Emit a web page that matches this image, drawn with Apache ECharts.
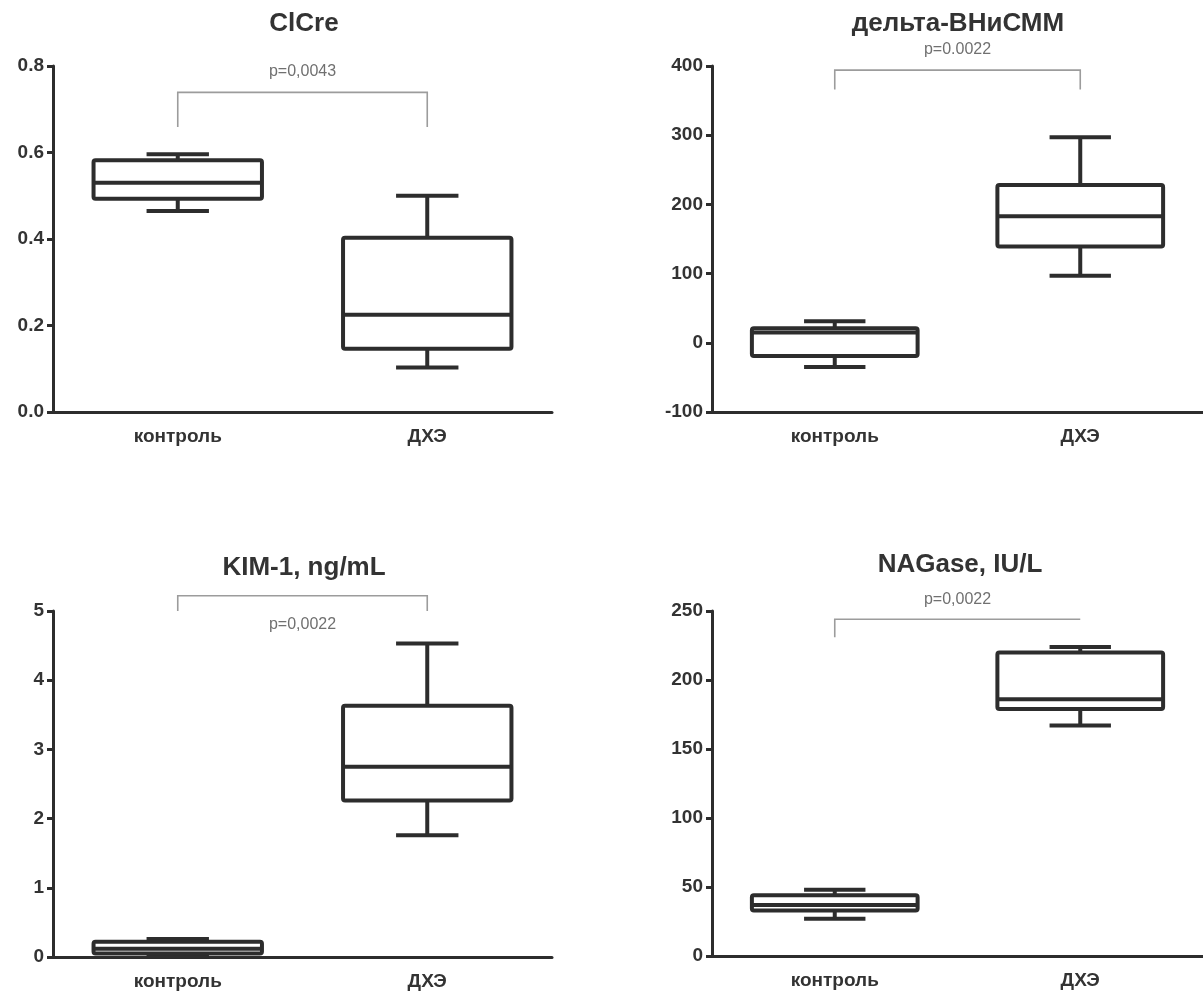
<!DOCTYPE html>
<html><head><meta charset="utf-8">
<script src="https://cdn.jsdelivr.net/npm/echarts@6/dist/echarts.min.js"></script>
<style>html,body{margin:0;padding:0;background:#fff}#c{width:1203px;height:993px}</style>
</head><body><div id="c"></div>
<script>
// ---- data ----
const categories = ['контроль', 'ДХЭ'];
const titles = ['ClCre', 'дельта-ВНиСММ', 'KIM-1, ng/mL', 'NAGase, IU/L'];
// each box: [min, Q1, median, Q3, max]
const clcreControl = [0.465, 0.493, 0.530, 0.582, 0.596];
const clcreDHE = [0.103, 0.146, 0.225, 0.403, 0.500];
const deltaControl = [-35, -19, 15, 21, 31];
const deltaDHE = [97, 139, 183, 228, 297];
const kimControl = [0.01, 0.05, 0.12, 0.22, 0.26];
const kimDHE = [1.76, 2.26, 2.75, 3.63, 4.53];
const nagControl = [27, 33, 37, 44, 48];
const nagDHE = [167, 179, 186, 220, 224];
const pTexts = ['p=0,0043', 'p=0.0022', 'p=0,0022', 'p=0,0022'];
const yMin = [0, -100, 0, 0];
const yMax = [0.8, 400, 5, 250];
const yInterval = [0.2, 100, 1, 50];
const bracketTop = [0.739, 394, 5.22, 244];
const bracketLeftEnd = [0.659, 366, 5.0, 231];
const bracketRightEnd = [0.659, 366, 5.0, 244];
const pTextY = [0.787, 423, 4.81, 258];

const boxes = [
  [clcreControl, clcreDHE],
  [deltaControl, deltaDHE],
  [kimControl, kimDHE],
  [nagControl, nagDHE]
];

// ---- layout ----
const FONT = '"Liberation Sans", Arial, sans-serif';
const INK = '#2d2d2d';
const grids = [
  {left: 53, top: 66, width: 499, height: 346},
  {left: 712, top: 66, width: 496, height: 346},
  {left: 53, top: 611, width: 499, height: 346},
  {left: 712, top: 611, width: 496, height: 345}
];
const titlePos = [[304, 24], [958, 24], [304, 568], [960, 565]];

function renderBox(params, api) {
  const ci = api.value(0);
  const v = [1, 2, 3, 4, 5].map(i => api.value(i));
  const cx = api.coord([ci, v[2]])[0];
  const y = val => api.coord([ci, val])[1];
  const band = api.size([1, 0])[0];
  const hw = band * 0.675 / 2;
  const cw = band * 0.25 / 2;
  const st = {stroke: INK, lineWidth: 4, fill: null, lineJoin: 'round', lineCap: 'butt'};
  return {
    type: 'group',
    children: [
      {type: 'line', shape: {x1: cx, y1: y(v[3]), x2: cx, y2: y(v[4])}, style: st},
      {type: 'line', shape: {x1: cx, y1: y(v[1]), x2: cx, y2: y(v[0])}, style: st},
      {type: 'line', shape: {x1: cx - cw, y1: y(v[4]), x2: cx + cw, y2: y(v[4])}, style: st},
      {type: 'line', shape: {x1: cx - cw, y1: y(v[0]), x2: cx + cw, y2: y(v[0])}, style: st},
      {type: 'rect', shape: {x: cx - hw, y: y(v[3]), width: 2 * hw, height: y(v[1]) - y(v[3]), r: 2},
        style: Object.assign({}, st, {fill: '#fff'})},
      {type: 'line', shape: {x1: cx - hw, y1: y(v[2]), x2: cx + hw, y2: y(v[2])}, style: st}
    ]
  };
}

function renderSig(params, api) {
  const gi = Math.floor(params.seriesIndex / 2);
  const top = api.value(0), lEnd = api.value(1), rEnd = api.value(2), ty = api.value(3);
  const p0 = api.coord([0, top]);
  const p1 = api.coord([1, top]);
  const l0 = api.coord([0, lEnd]);
  const r1 = api.coord([1, rEnd]);
  const t = api.coord([0, ty]);
  return {
    type: 'group',
    children: [
      {type: 'polyline', shape: {points: [l0, p0, p1, r1]},
        style: {stroke: '#9c9c9c', lineWidth: 1.6, fill: null}},
      {type: 'text', x: (p0[0] + p1[0]) / 2, y: t[1],
        style: {text: pTexts[gi], fill: '#707070', font: '16px ' + FONT, align: 'center', verticalAlign: 'middle'}}
    ]
  };
}

const option = {
  animation: false,
  backgroundColor: '#fff',
  grid: grids,
  xAxis: grids.map((g, i) => ({
    type: 'category', gridIndex: i, data: categories,
    axisLine: {onZero: false, lineStyle: {color: INK, width: 3}},
    axisTick: {alignWithLabel: true, length: 6, lineStyle: {color: INK, width: 3}},
    axisLabel: {color: '#333', fontFamily: FONT, fontWeight: 'bold', fontSize: 19, margin: 15},
    splitLine: {show: false}
  })),
  yAxis: grids.map((g, i) => ({
    type: 'value', gridIndex: i, min: yMin[i], max: yMax[i], interval: yInterval[i],
    axisLine: {show: true, lineStyle: {color: INK, width: 3}},
    axisTick: {show: true, length: 6, lineStyle: {color: INK, width: 3}},
    axisLabel: {color: '#333', fontFamily: FONT, fontWeight: 'bold', fontSize: 19, margin: 9,
      formatter: i === 0 ? (v => v.toFixed(1)) : (v => String(v))},
    splitLine: {show: false}
  })),
  series: [],
  graphic: titles.map((t, i) => ({
    type: 'text', x: titlePos[i][0], y: titlePos[i][1],
    style: {text: t, fill: '#333', font: 'bold 26px ' + FONT, align: 'center', verticalAlign: 'middle'}
  }))
};

boxes.forEach((pair, i) => {
  option.series.push({
    type: 'custom', xAxisIndex: i, yAxisIndex: i, renderItem: renderBox,
    encode: {x: 0, y: [1, 2, 3, 4, 5]},
    data: pair.map((b, ci) => [ci].concat(b)), clip: false, z: 3
  });
  option.series.push({
    type: 'custom', xAxisIndex: i, yAxisIndex: i, renderItem: renderSig,
    encode: {x: -1, y: [0]},
    data: [[bracketTop[i], bracketLeftEnd[i], bracketRightEnd[i], pTextY[i]]], clip: false, z: 2
  });
});

const chart = echarts.init(document.getElementById('c'));
chart.setOption(option);
</script></body></html>
